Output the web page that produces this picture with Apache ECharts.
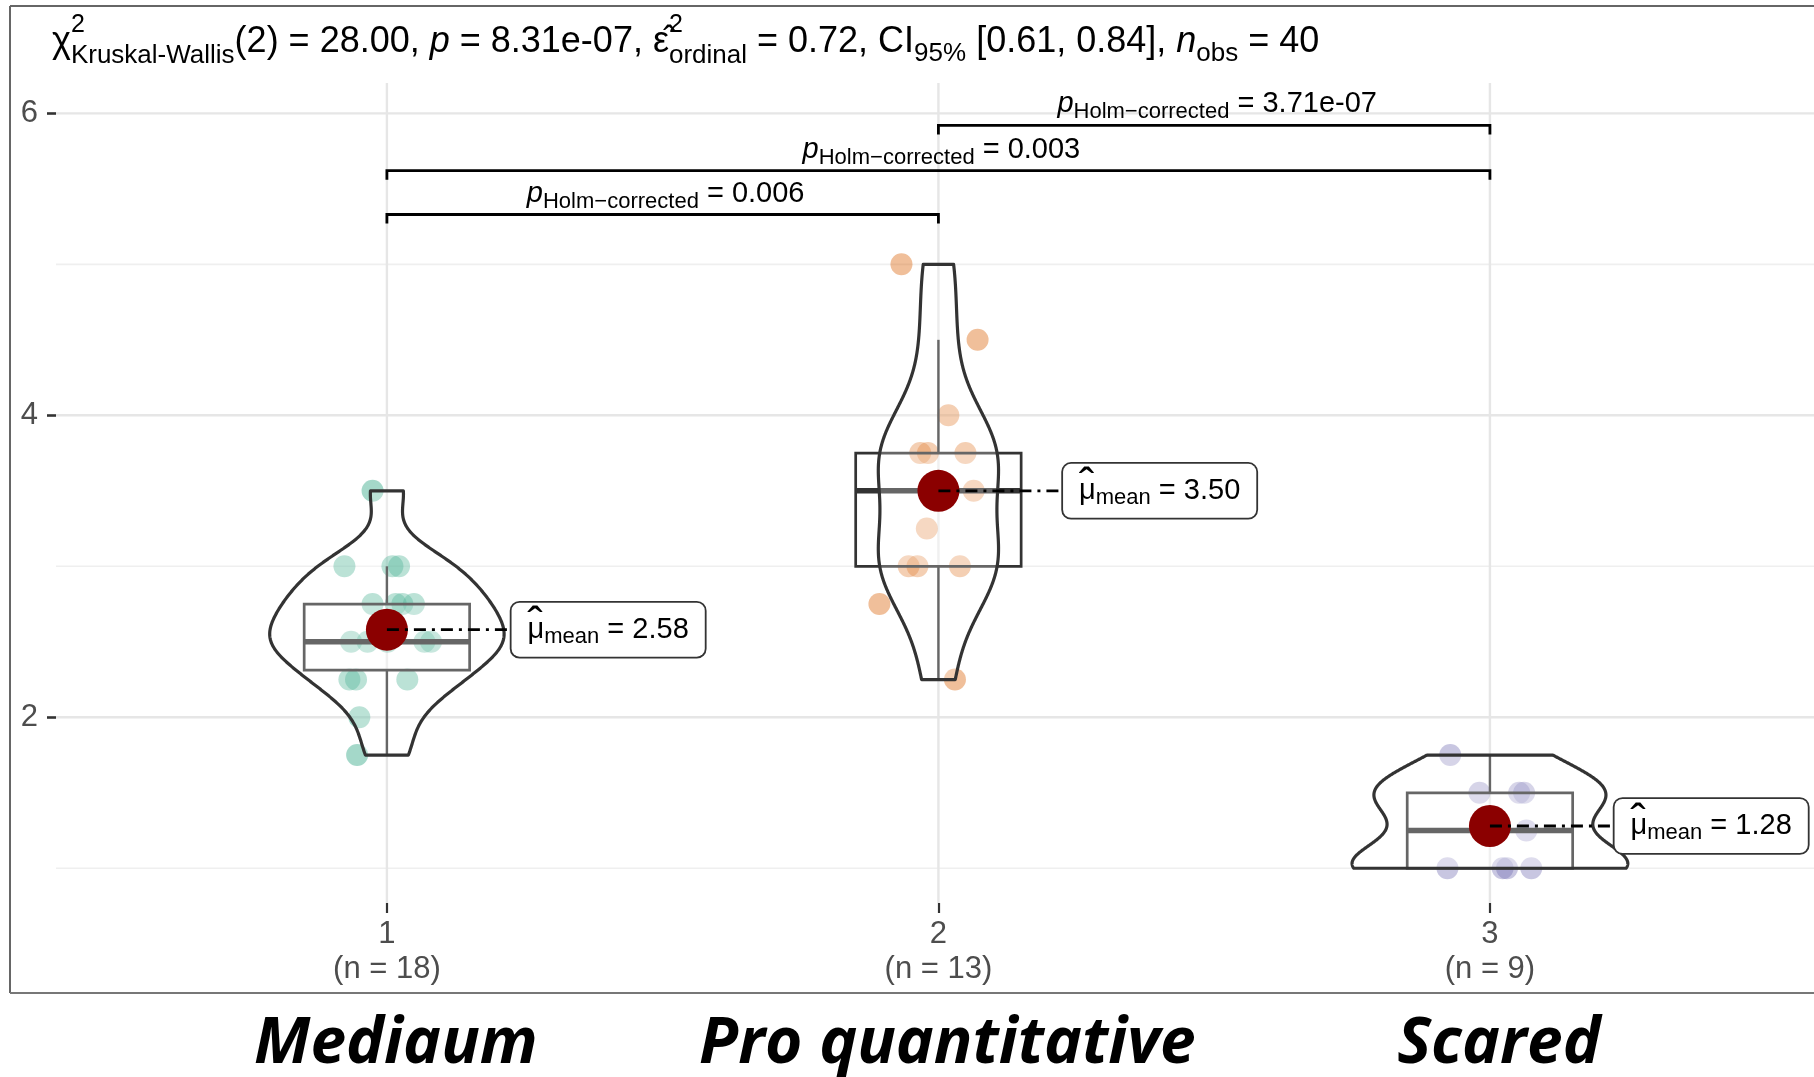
<!DOCTYPE html>
<html>
<head>
<meta charset="utf-8">
<script src="https://cdn.jsdelivr.net/npm/echarts@6/dist/echarts.min.js"></script>
<style>
  html, body { margin: 0; padding: 0; background: #ffffff; }
  #chart { width: 1814px; height: 1077px; }
</style>
</head>
<body>
<div id="chart"></div>
<script>
// ---- data ---------------------------------------------------------------
const categories = ['Mediaum', 'Pro quantitative', 'Scared'];
const groupTicks = ['1', '2', '3'];
const groupCounts = ['(n = 18)', '(n = 13)', '(n = 9)'];
const groupPositions = [1, 2, 3];

// individual observations (value) with their horizontal jitter (x position)
const mediaumValues = [3.5, 3.0, 3.0, 3.0, 2.75, 2.75, 2.75, 2.75, 2.5, 2.5, 2.5, 2.5, 2.5, 2.25, 2.25, 2.25, 2.0, 1.75];
const mediaumJitter = [0.974, 0.923, 1.010, 1.022, 0.974, 1.016, 1.028, 1.049, 0.935, 0.965, 1.001, 1.068, 1.080, 0.932, 0.944, 1.037, 0.950, 0.946];

const proQuantValues = [5.0, 4.5, 4.0, 3.75, 3.75, 3.75, 3.5, 3.25, 3.0, 3.0, 3.0, 2.75, 2.25];
const proQuantJitter = [1.933, 2.071, 2.018, 1.967, 1.981, 2.049, 2.064, 1.979, 1.946, 1.962, 2.039, 1.893, 2.030];

const scaredValues = [1.75, 1.5, 1.5, 1.5, 1.25, 1.0, 1.0, 1.0, 1.0];
const scaredJitter = [2.928, 2.981, 3.053, 3.062, 3.066, 2.923, 3.023, 3.031, 3.075];

const groupMeans = [2.58, 3.50, 1.28];

// Holm-corrected pairwise comparisons
const pairFrom = [1, 1, 2];
const pairTo = [2, 3, 3];
const pairHeight = [5.33, 5.62, 5.92];
const pairPValues = ['0.006', '0.003', '3.71e-07'];

// Kruskal-Wallis summary
const kwDf = '2';
const kwStatistic = '28.00';
const kwP = '8.31e-07';
const epsilonSq = '0.72';
const ciLow = '0.61';
const ciHigh = '0.84';
const nObs = '40';

// axis ticks / grid
const yTicks = [2, 4, 6];
const yMinorGrid = [1, 3, 5];

// ---- helpers --------------------------------------------------------------
const FONT = '"Liberation Sans", Arial, Helvetica, sans-serif';
const X_MIN = 0.4, X_MAX = 3.5876, Y_MIN = 0.77, Y_MAX = 6.201;
const BOX_HALF = 0.15;      // boxplot width 0.3
const VIOLIN_HALF = 0.25;   // violin width 0.5
const LABEL_NUDGE = 0.226;

const groups = [
  { values: mediaumValues, jitter: mediaumJitter, color: 'rgba(27,158,119,0.4)' },
  { values: proQuantValues, jitter: proQuantJitter, color: 'rgba(217,95,2,0.4)' },
  { values: scaredValues, jitter: scaredJitter, color: 'rgba(117,112,179,0.4)' }
];

function quantile7(sorted, p) {
  const h = (sorted.length - 1) * p;
  const lo = Math.floor(h);
  const hi = Math.min(lo + 1, sorted.length - 1);
  return sorted[lo] + (h - lo) * (sorted[hi] - sorted[lo]);
}

function boxStats(values) {
  const s = values.slice().sort((a, b) => a - b);
  const q1 = quantile7(s, 0.25), med = quantile7(s, 0.5), q3 = quantile7(s, 0.75);
  const iqr = q3 - q1;
  const upper = Math.max(...s.filter(v => v <= q3 + 1.5 * iqr));
  const lower = Math.min(...s.filter(v => v >= q1 - 1.5 * iqr));
  return { q1, med, q3, upper, lower, sorted: s };
}

function bandwidthNrd0(sorted) {
  const n = sorted.length;
  const mean = sorted.reduce((a, b) => a + b, 0) / n;
  const sd = Math.sqrt(sorted.reduce((a, b) => a + (b - mean) * (b - mean), 0) / (n - 1));
  const iqr = quantile7(sorted, 0.75) - quantile7(sorted, 0.25);
  const lo = Math.min(sd, iqr / 1.34);
  return 0.9 * lo * Math.pow(n, -0.2);
}

// gaussian kernel density, trimmed to the data range
function densityTrimmed(sorted) {
  const bw = bandwidthNrd0(sorted);
  const n = sorted.length;
  const lo = sorted[0], hi = sorted[n - 1];
  const out = [];
  const steps = 511;
  for (let k = 0; k <= steps; k++) {
    const y = lo + (hi - lo) * k / steps;
    let sum = 0;
    for (const v of sorted) {
      const z = (y - v) / bw;
      sum += Math.exp(-0.5 * z * z) / Math.sqrt(2 * Math.PI);
    }
    out.push([y, sum / (n * bw)]);
  }
  return out;
}

const stats = groups.map(g => boxStats(g.values));
const densities = stats.map(s => densityTrimmed(s.sorted));
const densityMax = Math.max(...densities.map(d => Math.max(...d.map(p => p[1]))));

// ---- rendering ------------------------------------------------------------
function gridLineRenderer(color, width, vertical) {
  return function (params, api) {
    const v = api.value(0);
    const a = vertical ? api.coord([v, Y_MIN]) : api.coord([X_MIN, v]);
    const b = vertical ? api.coord([v, Y_MAX]) : api.coord([X_MAX, v]);
    return {
      type: 'line', silent: true,
      shape: { x1: a[0], y1: a[1], x2: b[0], y2: b[1] },
      style: { stroke: color, lineWidth: width }
    };
  };
}

function renderBox(params, api) {
  const i = params.dataIndex;
  const s = stats[i];
  const c = groupPositions[i];
  const tl = api.coord([c - BOX_HALF, s.q3]);
  const br = api.coord([c + BOX_HALF, s.q1]);
  const m1 = api.coord([c - BOX_HALF, s.med]);
  const m2 = api.coord([c + BOX_HALF, s.med]);
  const wTop = api.coord([c, s.upper]);
  const wBot = api.coord([c, s.lower]);
  return {
    type: 'group',
    children: [
      { type: 'line', shape: { x1: wTop[0], y1: wTop[1], x2: wTop[0], y2: tl[1] }, style: { stroke: '#333', lineWidth: 2.4 } },
      { type: 'line', shape: { x1: wBot[0], y1: br[1], x2: wBot[0], y2: wBot[1] }, style: { stroke: '#333', lineWidth: 2.4 } },
      { type: 'rect', shape: { x: tl[0], y: tl[1], width: br[0] - tl[0], height: br[1] - tl[1] },
        style: { fill: 'rgba(255,255,255,0.2)', stroke: '#333', lineWidth: 2.7 } },
      { type: 'line', shape: { x1: m1[0], y1: m1[1], x2: m2[0], y2: m2[1] }, style: { stroke: '#333', lineWidth: 5.6 } }
    ]
  };
}

function renderViolin(params, api) {
  const i = params.dataIndex;
  const c = groupPositions[i];
  const d = densities[i];
  const left = [], right = [];
  for (const [y, f] of d) {
    const w = f / densityMax * VIOLIN_HALF;
    left.push(api.coord([c - w, y]));
    right.push(api.coord([c + w, y]));
  }
  const pts = left.concat(right.reverse());
  return {
    type: 'polygon',
    shape: { points: pts },
    style: { fill: 'rgba(255,255,255,0.25)', stroke: '#333', lineWidth: 3.2, lineJoin: 'round' }
  };
}

function renderMeanSegment(params, api) {
  const i = params.dataIndex;
  const c = groupPositions[i];
  const a = api.coord([c, groupMeans[i]]);
  const b = api.coord([c + LABEL_NUDGE, groupMeans[i]]);
  return {
    type: 'line',
    shape: { x1: a[0], y1: a[1], x2: b[0], y2: b[1] },
    style: { stroke: '#000', lineWidth: 2.8, lineDash: [12, 6, 3, 6] }
  };
}

// mu with a wide hat drawn above it: the hat token takes no width
const meanRich = {
  hat: { fontSize: 46, fontFamily: FONT, color: '#000', width: 0, padding: [0, 0, 6, 0], lineHeight: 36 },
  mu: { fontSize: 29, fontFamily: FONT, color: '#000', lineHeight: 36 },
  s: { fontSize: 22, fontFamily: FONT, color: '#000', padding: [14, 0, 0, 0], lineHeight: 36 },
  n: { fontSize: 29, fontFamily: FONT, color: '#000', lineHeight: 36 }
};

function renderMeanLabel(params, api) {
  const i = params.dataIndex;
  const c = groupPositions[i];
  const p = api.coord([c + LABEL_NUDGE, groupMeans[i]]);
  return {
    type: 'text',
    x: p[0], y: p[1],
    style: {
      text: '{hat|\u02c6}{mu|\u03bc}{s|mean}{n| = ' + groupMeans[i].toFixed(2) + '}',
      rich: meanRich,
      fontSize: 29, fontFamily: FONT,
      align: 'left', verticalAlign: 'middle',
      backgroundColor: '#ffffff', borderColor: '#333', borderWidth: 1.8, borderRadius: 8,
      padding: [9, 16, 9, 16]
    }
  };
}

const pRich = {
  p: { fontSize: 29, fontFamily: FONT, fontStyle: 'italic', color: '#000', lineHeight: 34 },
  s: { fontSize: 22, fontFamily: FONT, color: '#000', padding: [16, 0, 0, 0], lineHeight: 34 },
  n: { fontSize: 29, fontFamily: FONT, color: '#000', lineHeight: 34 }
};

function renderBracket(params, api) {
  const i = params.dataIndex;
  const a = api.coord([pairFrom[i], pairHeight[i]]);
  const b = api.coord([pairTo[i], pairHeight[i]]);
  return {
    type: 'group',
    children: [
      { type: 'polyline',
        shape: { points: [[a[0], a[1] + 9], [a[0], a[1]], [b[0], b[1]], [b[0], b[1] + 9]] },
        style: { stroke: '#000', lineWidth: 2.8, fill: 'none' } },
      { type: 'text', x: (a[0] + b[0]) / 2 + 3, y: a[1] - 21,
        style: {
          text: '{p|p}{s|Holm\u2212corrected}{n| = ' + pairPValues[i] + '}',
          rich: pRich, fontSize: 29, fontFamily: FONT,
          align: 'center', verticalAlign: 'middle'
        } }
    ]
  };
}

const titleRich = {
  n: { fontSize: 36, fontFamily: FONT, color: '#000', lineHeight: 46 },
  i: { fontSize: 36, fontFamily: FONT, fontStyle: 'italic', color: '#000', lineHeight: 46 },
  sup: { fontSize: 25, fontFamily: FONT, color: '#000', width: 0, padding: [0, 0, 34, 0], lineHeight: 46 },
  sub: { fontSize: 26, fontFamily: FONT, color: '#000', padding: [28, 0, 0, 0], lineHeight: 46 },
  sub2: { fontSize: 26, fontFamily: FONT, color: '#000', padding: [24, 0, 0, 0], lineHeight: 46 }
};

const titleText =
  '{n|\u03c7}{sup|2}{sub|Kruskal-Wallis}{n|(' + kwDf + ') = ' + kwStatistic + ', }' +
  '{i|p}{n| = ' + kwP + ', }' +
  '{n|\u03b5\u0302}{sup|2}{sub|ordinal}{n| = ' + epsilonSq + ', CI}{sub2|95%}' +
  '{n| [' + ciLow + ', ' + ciHigh + '], }{i|n}{sub2|obs}{n| = ' + nObs + '}';

const chart = echarts.init(document.getElementById('chart'), null, { renderer: 'canvas' });

const option = {
  animation: false,
  backgroundColor: '#ffffff',
  grid: { left: 56, right: 0, top: 83, bottom: 174, containLabel: false, outerBoundsMode: 'none' },
  xAxis: [
    {
      type: 'value', min: X_MIN, max: X_MAX,
      axisLine: { show: false },
      splitLine: { show: false },
      axisTick: { show: true, customValues: groupPositions, length: 10, lineStyle: { color: '#333', width: 2.2 } },
      axisLabel: {
        customValues: groupPositions, margin: 14,
        formatter: v => {
          const k = Math.round(v) - 1;
          return '{t|' + groupTicks[k] + '}\n{t|' + groupCounts[k] + '}';
        },
        rich: { t: { fontSize: 31, fontFamily: FONT, color: '#4d4d4d', lineHeight: 35 } }
      }
    },
    {
      type: 'value', min: X_MIN, max: X_MAX, position: 'bottom',
      axisLine: { show: false }, axisTick: { show: false }, splitLine: { show: false },
      axisLabel: {
        customValues: groupPositions, margin: 110,
        formatter: v => categories[Math.round(v) - 1],
        fontSize: 64, fontWeight: 'bold', fontStyle: 'italic',
        fontFamily: '"Open Sans", sans-serif', color: '#000',
        padding: [0, 0, 0, 18]
      }
    }
  ],
  yAxis: {
    type: 'value', min: Y_MIN, max: Y_MAX,
    axisLine: { show: false },
    splitLine: { show: false },
    axisTick: { show: true, customValues: yTicks, length: 9, lineStyle: { color: '#333', width: 2.6 } },
    axisLabel: { customValues: yTicks, margin: 18, fontSize: 31, fontFamily: FONT, color: '#4d4d4d' }
  },
  graphic: [
    { type: 'line', shape: { x1: 10, y1: 6, x2: 10, y2: 993 }, style: { stroke: '#666', lineWidth: 2 } },
    { type: 'line', shape: { x1: 10, y1: 6, x2: 1814, y2: 6 }, style: { stroke: '#666', lineWidth: 2 } },
    { type: 'line', shape: { x1: 10, y1: 993, x2: 1814, y2: 993 }, style: { stroke: '#777', lineWidth: 2 } },
    { type: 'text', x: 52, y: 42,
      style: { text: titleText, rich: titleRich, fontSize: 36, fontFamily: FONT, align: 'left', verticalAlign: 'middle' } }
  ],
  series: [
    { type: 'custom', z: 0, silent: true, data: yMinorGrid.map(v => [v]),
      renderItem: gridLineRenderer('#efefef', 1.6, false) },
    { type: 'custom', z: 0, silent: true, data: yTicks.map(v => [v]),
      renderItem: gridLineRenderer('#e6e6e6', 2.4, false) },
    { type: 'custom', z: 0, silent: true, data: groupPositions.map(v => [v]),
      renderItem: gridLineRenderer('#e6e6e6', 2.4, true) },
    ...groups.map(g => ({
      type: 'scatter', z: 1, symbolSize: 22,
      itemStyle: { color: g.color, opacity: 1 },
      data: g.jitter.map((x, k) => [x, g.values[k]])
    })),
    { type: 'custom', z: 2, data: groupPositions.map(v => [v]), renderItem: renderBox },
    { type: 'custom', z: 3, data: groupPositions.map(v => [v]), renderItem: renderViolin },
    { type: 'scatter', z: 4, symbolSize: 42, itemStyle: { color: '#8b0000', opacity: 1 },
      data: groupPositions.map((x, k) => [x, groupMeans[k]]) },
    { type: 'custom', z: 5, clip: false, data: groupPositions.map(v => [v]), renderItem: renderMeanSegment },
    { type: 'custom', z: 6, clip: false, data: groupPositions.map(v => [v]), renderItem: renderMeanLabel },
    { type: 'custom', z: 6, clip: false, data: pairFrom.map(v => [v]), renderItem: renderBracket }
  ]
};

chart.setOption(option);
</script>
</body>
</html>
